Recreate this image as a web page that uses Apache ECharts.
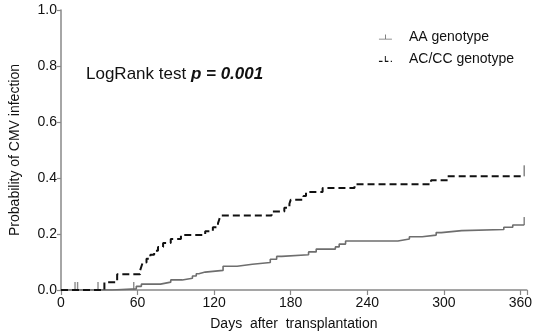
<!DOCTYPE html>
<html>
<head>
<meta charset="utf-8">
<script src="https://cdn.jsdelivr.net/npm/echarts@6/dist/echarts.min.js"></script>
<style>
  html, body { margin: 0; padding: 0; background: #fff; }
  #chart { width: 535px; height: 336px; }
</style>
</head>
<body>
<div id="chart"></div>
<script>
// Kaplan-Meier style cumulative incidence
const xTicks = [0, 60, 120, 180, 240, 300, 360]
const yTicks = [0, 0.2, 0.4, 0.6, 0.8, 1.0]

// AA genotype: [day, probability] at each event
const aaSteps = [
  [0, 0], [40, 0.004], [59, 0.013], [63, 0.021], [78, 0.028], [86, 0.036], [95, 0.042],
  [103, 0.05], [106, 0.058], [108, 0.064], [113, 0.07], [127, 0.085], [138, 0.092],
  [150, 0.098], [164, 0.11], [169, 0.12], [173, 0.126], [194, 0.136], [200, 0.146],
  [215, 0.154], [218, 0.164], [223, 0.175], [264, 0.182], [273, 0.19], [283, 0.196],
  [294, 0.205], [298, 0.212], [314, 0.216], [347, 0.224], [354, 0.232], [363, 0.232]
]
// AC/CC genotype
const acSteps = [
  [0, 0], [34, 0.028], [44, 0.056], [62, 0.07], [63, 0.084], [64, 0.098], [67, 0.112],
  [70, 0.126], [73, 0.14], [76, 0.154], [80, 0.168], [86, 0.182], [94, 0.196],
  [113, 0.21], [119, 0.224], [123, 0.238], [124, 0.252], [125, 0.266], [165, 0.28],
  [175, 0.294], [179, 0.308], [180, 0.322], [190, 0.336], [192, 0.35], [205, 0.364],
  [230, 0.378], [290, 0.392], [303, 0.406], [363, 0.406]
]
// censored observations
const aaCensor = [[11, 0], [13, 0], [29, 0], [57, 0]]
const aaEndCensor = [[363, 0.232]]
const acEndCensor = [[363, 0.406]]

const GRAY = '#6e6e6e'
const BLACK = '#111'
const FONT = 'Liberation Sans, Arial, sans-serif'

const chart = echarts.init(document.getElementById('chart'), null, {renderer: 'canvas'})

const legendIconAA = 'path://M0,9 L24,9 L24,10.6 L0,10.6 Z M11.2,1 L12.8,1 L12.8,9 L11.2,9 Z'
const legendIconAC = 'path://M0,9 L6,9 L6,10.8 L0,10.8 Z M10,1 L11.6,1 L11.6,9 L16,9 L16,10.8 L10,10.8 Z M20,9 L22,9 L22,10.8 L20,10.8 Z'

chart.setOption({
  animation: false,
  textStyle: {fontFamily: FONT},
  grid: {left: 55, right: 6, top: 10, bottom: 44, containLabel: false},
  title: {
    text: '{n|LogRank test }{b|p = 0.001}',
    left: 81, top: 61,
    textStyle: {
      fontWeight: 'normal',
      rich: {
        n: {fontSize: 17, color: '#111', fontWeight: 'normal', fontFamily: FONT},
        b: {fontSize: 17, color: '#111', fontWeight: 'bold', fontStyle: 'italic', fontFamily: FONT}
      }
    }
  },
  legend: {
    right: 16, top: 25,
    orient: 'vertical',
    itemGap: 8,
    itemWidth: 13, itemHeight: 10,
    textStyle: {fontSize: 14, color: '#111', fontFamily: FONT, padding: [0, 0, 0, 12]},
    data: [
      {name: 'AA genotype', icon: legendIconAA, itemStyle: {color: GRAY}},
      {name: 'AC/CC genotype', icon: legendIconAC, itemStyle: {color: BLACK}}
    ]
  },
  xAxis: {
    type: 'value',
    min: 0, max: 365, interval: 60,
    name: 'Days  after  transplantation',
    nameLocation: 'middle', nameGap: 27,
    nameTextStyle: {fontSize: 14, color: '#111'},
    axisLine: {lineStyle: {color: '#888', width: 1.5}},
    axisTick: {length: 5, lineStyle: {color: '#888', width: 1.2}},
    axisLabel: {fontSize: 14, color: '#111', margin: 6,
      formatter: v => (xTicks.includes(v) ? String(v) : '')},
    splitLine: {show: false}
  },
  yAxis: {
    type: 'value',
    min: 0, max: 1, interval: 0.2,
    name: 'Probability of CMV infection',
    nameLocation: 'middle', nameGap: 39,
    nameTextStyle: {fontSize: 14, color: '#111'},
    axisLine: {show: true, lineStyle: {color: '#888', width: 1.5}},
    axisTick: {show: true, length: 4, lineStyle: {color: '#888', width: 1.2}},
    axisLabel: {fontSize: 14, color: '#111', margin: 4,
      formatter: v => (yTicks.some(t => Math.abs(t - v) < 1e-6) ? v.toFixed(1) : '')},
    splitLine: {show: false}
  },
  series: [
    {
      name: 'AA genotype', type: 'line', step: 'end', data: aaSteps,
      showSymbol: false, symbol: 'none',
      lineStyle: {color: GRAY, width: 1.6},
      itemStyle: {color: GRAY}, z: 3
    },
    {
      name: 'AC/CC genotype', type: 'line', step: 'end', data: acSteps,
      showSymbol: false, symbol: 'none',
      lineStyle: {color: BLACK, width: 2, type: [7, 4]},
      itemStyle: {color: BLACK}, z: 4
    },
    {
      name: 'AA genotype', type: 'scatter', data: aaCensor,
      symbol: 'rect', symbolSize: [1.4, 8], symbolOffset: [0, -4],
      itemStyle: {color: GRAY}, z: 2
    },
    {
      name: 'AA genotype', type: 'scatter', data: aaEndCensor,
      symbol: 'rect', symbolSize: [1.6, 8], symbolOffset: [0, -4],
      itemStyle: {color: GRAY}, z: 3
    },
    {
      name: 'AC/CC genotype', type: 'scatter', data: acEndCensor,
      symbol: 'rect', symbolSize: [1.6, 11], symbolOffset: [0, -5.5],
      itemStyle: {color: GRAY}, z: 3
    }
  ]
})
</script>
</body>
</html>
